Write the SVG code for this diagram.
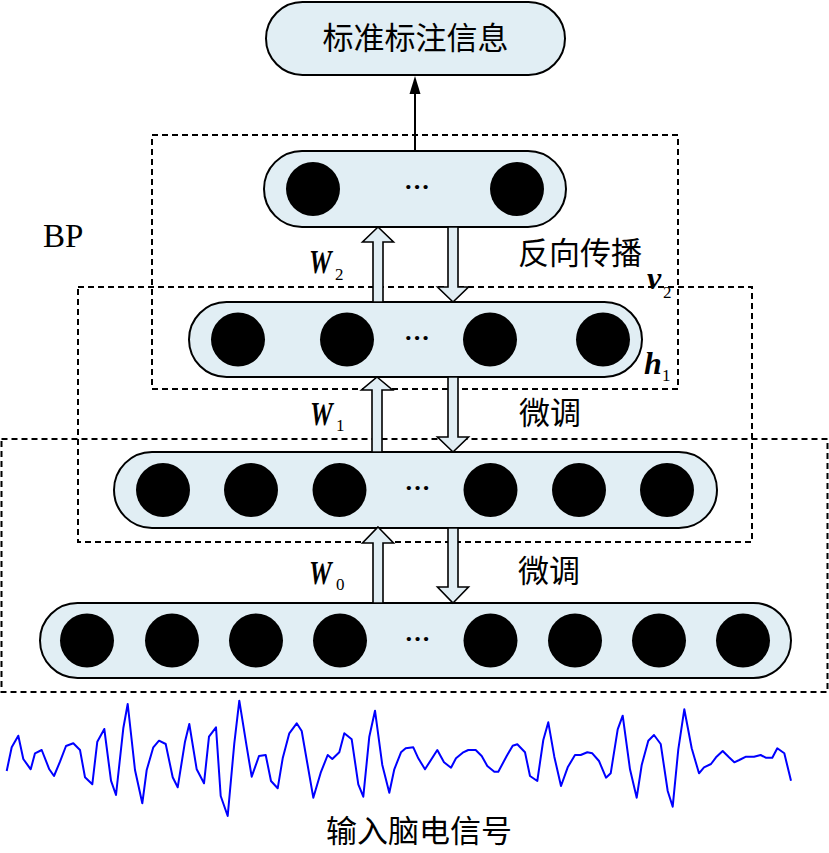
<svg xmlns="http://www.w3.org/2000/svg" width="829" height="853" viewBox="0 0 829 853">
<defs>
<style>
.pill{fill:#E1EEF4;stroke:#000;stroke-width:2}
.dot{fill:#000}
.box{fill:none;stroke:#000;stroke-width:2;stroke-dasharray:6 4}
.harrow{fill:#E1EEF4;stroke:#000;stroke-width:1.6;stroke-linejoin:miter}
.cn{font-family:"Noto Sans CJK SC","Noto Sans CJK JP",sans-serif;font-size:31px;fill:#000}
.it{font-family:"Liberation Serif",serif;font-weight:bold;font-style:italic;fill:#000}
.sub{font-family:"Liberation Serif",serif;font-size:17px;fill:#000}
.ell{font-family:"Liberation Serif",serif;font-size:26px;font-weight:bold;fill:#000;text-anchor:middle}
</style>
</defs>
<rect width="829" height="853" fill="#fff"/>

<g id="dashed-boxes">
<rect class="box" x="152" y="135" width="526" height="254"/>
<rect class="box" x="78" y="287" width="674" height="255"/>
<rect class="box" x="1.5" y="439" width="826" height="253"/>
</g>

<g id="output-node">
<rect class="pill" x="266" y="2" width="299" height="73" rx="36.5"/>
<text class="cn" x="415.5" y="49" text-anchor="middle">标准标注信息</text>
</g>

<g id="layer-v2">
<rect class="pill" x="264" y="151" width="302" height="76" rx="38"/>
<circle class="dot" cx="313" cy="189" r="27"/>
<circle class="dot" cx="517" cy="189" r="27"/>
<text class="ell" x="417" y="195">···</text>
</g>

<g id="layer-h1">
<rect class="pill" x="189" y="302" width="453" height="75" rx="37.5"/>
<circle class="dot" cx="238" cy="339.5" r="27"/>
<circle class="dot" cx="347" cy="339.5" r="27"/>
<circle class="dot" cx="490" cy="339.5" r="27"/>
<circle class="dot" cx="603" cy="339.5" r="27"/>
<text class="ell" x="417" y="346">···</text>
</g>

<g id="layer-2">
<rect class="pill" x="114" y="452" width="603" height="76" rx="38"/>
<circle class="dot" cx="163" cy="490" r="27"/>
<circle class="dot" cx="251" cy="490" r="27"/>
<circle class="dot" cx="339.5" cy="490" r="27"/>
<circle class="dot" cx="490.5" cy="490" r="27"/>
<circle class="dot" cx="579" cy="490" r="27"/>
<circle class="dot" cx="667" cy="490" r="27"/>
<text class="ell" x="417.5" y="496">···</text>
</g>

<g id="layer-input">
<rect class="pill" x="40" y="603" width="751" height="75" rx="37.5"/>
<circle class="dot" cx="87" cy="640.5" r="27"/>
<circle class="dot" cx="172" cy="640.5" r="27"/>
<circle class="dot" cx="256" cy="640.5" r="27"/>
<circle class="dot" cx="340" cy="640.5" r="27"/>
<circle class="dot" cx="490.5" cy="640.5" r="27"/>
<circle class="dot" cx="575" cy="640.5" r="27"/>
<circle class="dot" cx="659" cy="640.5" r="27"/>
<circle class="dot" cx="743" cy="640.5" r="27"/>
<text class="ell" x="417.5" y="646.5">···</text>
</g>

<g id="connectors">
<line x1="415" y1="151" x2="415" y2="92" stroke="#000" stroke-width="2"/>
<path d="M415,76 L420.5,94 L409.5,94 Z" fill="#000"/>
<path class="harrow" d="M378,227 L393.5,242 L383,242 L383,302 L373,302 L373,242 L362.5,242 Z"/>
<path class="harrow" d="M453,302 L468.5,287 L458,287 L458,227 L448,227 L448,287 L437.5,287 Z"/>
<path class="harrow" d="M377,377 L392.5,390 L382,390 L382,452 L372,452 L372,390 L361.5,390 Z"/>
<path class="harrow" d="M453,452 L468.5,437 L458,437 L458,377 L448,377 L448,437 L437.5,437 Z"/>
<path class="harrow" d="M378,527 L393.5,543 L383,543 L383,603 L373,603 L373,543 L362.5,543 Z"/>
<path class="harrow" d="M453,603 L468.5,587 L458,587 L458,528 L448,528 L448,587 L437.5,587 Z"/>
</g>

<g id="labels">
<text x="43" y="247" font-family="Liberation Serif, serif" font-size="33" fill="#000">BP</text>
<text class="cn" x="518" y="264">反向传播</text>
<text class="cn" x="519" y="424">微调</text>
<text class="cn" x="518" y="582">微调</text>
<text class="cn" x="326" y="842">输入脑电信号</text>
<text class="it" font-size="34" transform="translate(309,273) scale(0.75,1)">W</text>
<text class="sub" x="335" y="280">2</text>
<text class="it" font-size="34" transform="translate(310,425) scale(0.75,1)">W</text>
<text class="sub" x="336" y="431">1</text>
<text class="it" font-size="34" transform="translate(309,584) scale(0.75,1)">W</text>
<text class="sub" x="336" y="590">0</text>
<text class="it" font-size="32" x="647" y="289">v</text>
<text class="sub" x="663" y="298">2</text>
<text class="it" font-size="32" x="644" y="374">h</text>
<text class="sub" x="662" y="381">1</text>
</g>

<g id="eeg-signal">
<polyline fill="none" stroke="#0000FF" stroke-width="2" stroke-linejoin="round" points="6.7,771 11.7,747.3 18.3,735.7 23.3,759 30.7,769.3 35,753.3 41.7,750 49.3,769.3 54,776 60,761.7 66,746 73.3,743.3 80,750 85,777.3 92.3,784.3 97.3,741.7 104.3,729 111,780.7 116,795 123.3,728.3 127.7,704 135,770 142.3,803.3 146.7,770 153.3,747.3 159,740.7 165.7,744 172.7,777.3 177.7,787.3 185,741.7 189.3,724 196.7,769.3 204,783.3 209,736.7 216,727.3 220.7,796 227.7,816 234.3,743.3 239.3,700.7 246.7,746.7 251.7,776.7 259,756 265.7,755 271,781 277.7,788.3 282.7,758.3 289.3,733.3 296.7,723.3 301.7,731 313.3,797.7 320.7,772.7 327.7,755 332.3,759 339.3,752.3 344.3,733.3 351.7,739.3 358.3,784.3 363.3,796.7 369.3,736.7 375,710.7 382.3,765 389.3,792.7 394.3,769.3 401,752.3 405.7,748.3 413.3,747.3 418.3,758.3 425,769.3 437.3,750 444,762.3 451,767.7 456,758.3 462.7,752.7 468.3,750 475.7,750 481.7,756 487.3,766 494.3,771.7 498.3,771.7 506.7,756 512.7,745.7 517.3,744.3 525,752.3 530,776 537.3,781 543.3,740 548.3,722.3 554.3,756.7 561,786 567.7,767.3 575,755 580.7,755 587.3,752.3 592.3,753.3 599,761 606,777.7 610.7,773.3 617.7,729.3 622.7,715.7 630,769.3 636.7,797.7 641.7,765 648.3,740.7 654,735 660.7,744 667.7,791 672.7,806.7 678.3,749.3 684.3,709.3 691.7,748.3 699,773.3 704,767.3 711,764 716,757.3 722.7,751 729,757.3 734.3,762.3 739.3,760 746,756.7 754,756.7 760.7,755 765.7,757.7 772.3,757.7 777.3,748.3 784.3,753.3 791,780.7"/>
</g>
</svg>
